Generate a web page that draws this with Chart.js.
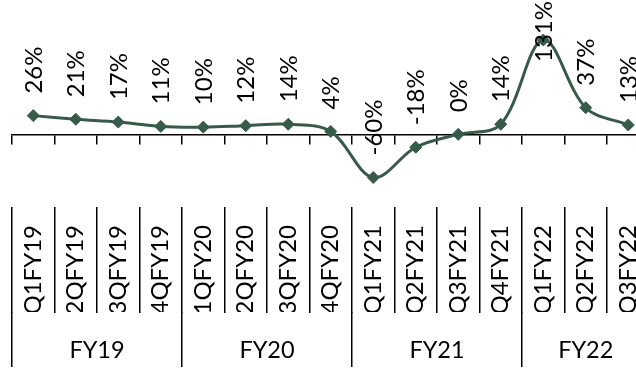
<!DOCTYPE html>
<html>
<head>
<meta charset="utf-8">
<script src="https://cdn.jsdelivr.net/npm/chart.js@4"></script>
<style>
  html, body { margin: 0; padding: 0; background: #fff; }
  #wrap { width: 636px; height: 369px; overflow: hidden; position: relative; }
  canvas { display: block; }
</style>
</head>
<body>
<div id="wrap"><canvas id="c" width="660" height="369"></canvas></div>
<script>
// Quarterly growth, %
const quarters = ['Q1FY19', '2QFY19', '3QFY19', '4QFY19',
                  '1QFY20', '2QFY20', '3QFY20', '4QFY20',
                  'Q1FY21', 'Q2FY21', 'Q3FY21', 'Q4FY21',
                  'Q1FY22', 'Q2FY22', 'Q3FY22'];
const growth = [26, 21, 17, 11, 10, 12, 14, 4, -60, -18, 0, 14, 131, 37, 13];
const years = ['FY19', 'FY20', 'FY21', 'FY22'];
const quartersPerYear = [4, 4, 4, 3];

const LINE = '#385a4a';
const FONT = 'Lato';

// Year band: boundaries between years and a centred label for each year
const yearBounds = [];
const yearCentres = {};
let start = -0.5;
yearBounds.push(start);
years.forEach((y, i) => {
  const n = quartersPerYear[i];
  yearCentres[start + n / 2] = y;
  start += n;
  yearBounds.push(start);
});
const yearTicks = [...yearBounds, ...Object.keys(yearCentres).map(Number)].sort((a, b) => a - b);

// Percentage label written upward above each point
const valueLabels = {
  id: 'valueLabels',
  afterDatasetsDraw(chart) {
    const ctx = chart.ctx;
    const meta = chart.getDatasetMeta(0);
    ctx.save();
    ctx.font = '24px ' + FONT;
    ctx.fillStyle = '#000';
    ctx.textAlign = 'left';
    ctx.textBaseline = 'alphabetic';
    meta.data.forEach((pt, i) => {
      const text = growth[i] + '%';
      const w = ctx.measureText(text).width;
      let y = pt.y - 22;
      if (y - w < 1) y = w + 1;
      ctx.save();
      ctx.translate(pt.x, y);
      ctx.rotate(-Math.PI / 2);
      ctx.fillText(text, 0, 8.5);
      ctx.restore();
    });
    ctx.restore();
  }
};

Chart.defaults.font.family = FONT;
Chart.defaults.color = '#000';

new Chart(document.getElementById('c'), {
  type: 'line',
  data: {
    labels: quarters,
    datasets: [{
      data: growth,
      xAxisID: 'x',
      yAxisID: 'y',
      borderColor: LINE,
      backgroundColor: LINE,
      borderWidth: 3,
      tension: 0.35,
      pointStyle: 'rectRot',
      pointRadius: 6,
      pointBackgroundColor: LINE,
      pointBorderColor: LINE,
      pointBorderWidth: 1,
      clip: false
    }]
  },
  options: {
    responsive: false,
    animation: false,
    devicePixelRatio: 1,
    layout: { padding: { left: 12, right: 10.5, top: 30, bottom: 0 } },
    plugins: { legend: { display: false }, tooltip: { enabled: false } },
    scales: {
      y: { display: false, min: -101, max: 145 },
      // zero line with short boundary ticks
      x0: {
        type: 'category',
        position: { y: 0 },
        offset: true,
        grid: { offset: true, drawOnChartArea: false, tickLength: 9, color: '#000', lineWidth: 1.5 },
        border: { display: true, color: '#000', width: 1.5 },
        ticks: { display: false }
      },
      // quarter labels
      x: {
        type: 'category',
        position: 'bottom',
        weight: 0,
        offset: true,
        grid: { offset: true, drawOnChartArea: false, tickLength: 106, color: '#000', lineWidth: 1.5 },
        border: { display: false },
        ticks: { autoSkip: false, minRotation: 90, maxRotation: 90, padding: -88, font: { size: 24 }, color: '#000' },
        afterFit: s => { s.height = 105; }
      },
      // fiscal-year band
      xg: {
        type: 'linear',
        position: 'bottom',
        weight: 1,
        min: -0.5,
        max: 14.5,
        afterBuildTicks: s => { s.ticks = yearTicks.map(v => ({ value: v })); },
        grid: {
          drawOnChartArea: false,
          tickLength: 55,
          lineWidth: 1.5,
          color: ctx => (ctx.tick && yearBounds.includes(ctx.tick.value)) ? '#000' : 'rgba(0,0,0,0)'
        },
        border: { display: false },
        ticks: {
          autoSkip: false, maxRotation: 0, minRotation: 0, padding: -31,
          font: { size: 23.5 }, color: '#000',
          callback: v => yearCentres[v] || ''
        },
        afterFit: s => { s.height = 57; }
      }
    }
  },
  plugins: [valueLabels]
});
</script>
</body>
</html>
